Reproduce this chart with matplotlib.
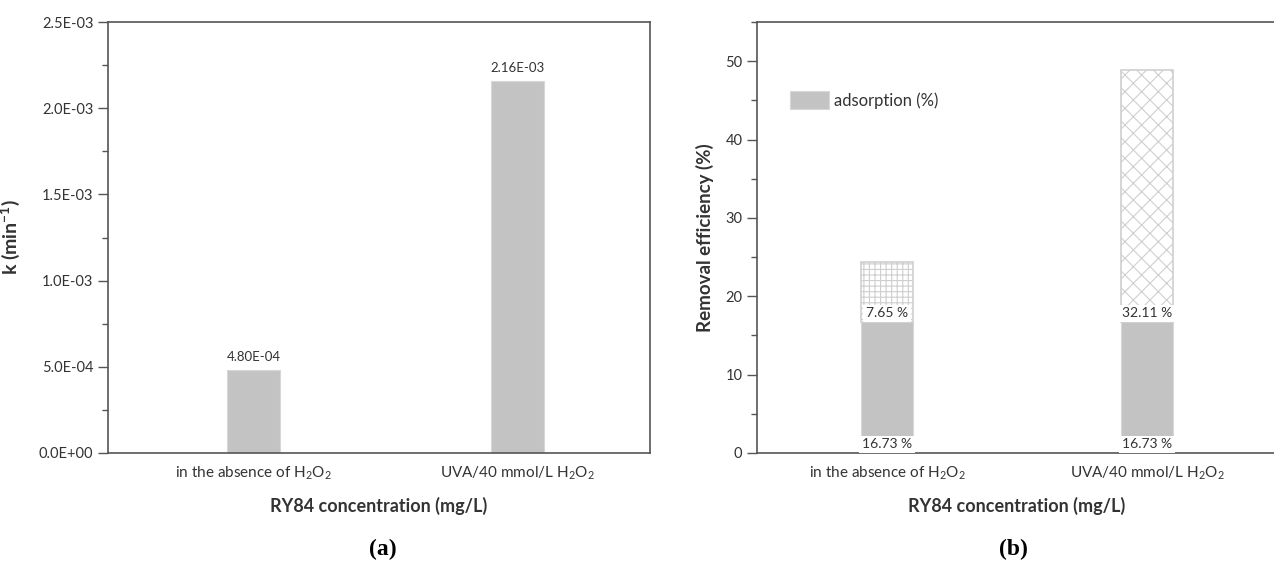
"""Rate constants (a) and stacked removal efficiency (b) for RY84."""

import matplotlib

matplotlib.use("Agg")
import matplotlib.pyplot as plt
from matplotlib.ticker import MultipleLocator, FuncFormatter

plt.rcParams["font.family"] = ["Lato", "DejaVu Sans"]
plt.rcParams["mathtext.fontset"] = "custom"
plt.rcParams["mathtext.rm"] = "Lato"
plt.rcParams["mathtext.it"] = "Lato:italic"
plt.rcParams["mathtext.bf"] = "Lato:bold"
plt.rcParams["hatch.linewidth"] = 0.8

categories = ["in the absence of H$_2$O$_2$", "UVA/40 mmol/L H$_2$O$_2$"]
k_values = [4.80e-4, 2.16e-3]
k_labels = ["4.80E-04", "2.16E-03"]
adsorption = [16.73, 16.73]
degradation = [7.65, 32.11]
top_hatches = ["+++", "xx"]

GRAY = "#c3c3c3"
HATCH = "#cfcfcf"
SPINE = "#555555"
TEXT = "#333333"

fig = plt.figure(figsize=(12.74, 5.64), dpi=100)
ax_a = fig.add_axes([108 / 1274, 111 / 564, 542 / 1274, 431 / 564])
ax_b = fig.add_axes([757 / 1274, 111 / 564, 520 / 1274, 431 / 564])

x = range(len(categories))

# (a) pseudo-first-order rate constants
bars = ax_a.bar(x, k_values, 0.2, color=GRAY, edgecolor="#d8d8d8", linewidth=0.8)
for bar, lab in zip(bars, k_labels):
    ax_a.annotate(lab, (bar.get_x() + bar.get_width() / 2, bar.get_height()),
                  xytext=(0, 5), textcoords="offset points",
                  ha="center", va="bottom", fontsize=9.5, color=TEXT)
ax_a.set_xlim(-0.55, 1.5)
ax_a.set_ylim(0, 2.5e-3)
ax_a.yaxis.set_major_locator(MultipleLocator(5e-4))
ax_a.yaxis.set_minor_locator(MultipleLocator(2.5e-4))
ax_a.yaxis.set_major_formatter(FuncFormatter(lambda v, _: f"{v:.1E}"))
ax_a.set_ylabel("k (min$\\mathbf{^{-1}}$)", fontsize=14, fontweight="bold",
                color=TEXT, labelpad=12)

# (b) adsorption + degradation stacked
ax_b.bar(x, adsorption, 0.2, color=GRAY, edgecolor="#d8d8d8", linewidth=0.8,
         label="adsorption (%)")
for i, (base, top, h) in enumerate(zip(adsorption, degradation, top_hatches)):
    ax_b.bar(i, top, 0.2, bottom=base, color="white", edgecolor=HATCH,
             hatch=h, linewidth=1.2)
    ax_b.text(i, base + 0.35, f"{top:.2f} %", ha="center", va="bottom",
              fontsize=10, color=TEXT,
              bbox=dict(facecolor="white", edgecolor="none", pad=1.8))
    ax_b.text(i, 0.35, f"{base:.2f} %", ha="center", va="bottom",
              fontsize=10, color=TEXT,
              bbox=dict(facecolor="white", edgecolor="none", pad=1.8))
ax_b.set_xlim(-0.5, 1.5)
ax_b.set_ylim(0, 55)
ax_b.yaxis.set_major_locator(MultipleLocator(10))
ax_b.yaxis.set_minor_locator(MultipleLocator(5))
ax_b.set_ylabel("Removal efficiency (%)", fontsize=13.5, fontweight="bold",
                color=TEXT, labelpad=8)
ax_b.legend(loc="upper left", bbox_to_anchor=(0.035, 0.875), frameon=False,
            fontsize=12, handlelength=2.3, handleheight=1.3, handletextpad=0.3,
            labelcolor=TEXT)

for ax, tag in ((ax_a, "(a)"), (ax_b, "(b)")):
    ax.set_xticks(list(x))
    ax.set_xticklabels(categories, fontsize=11, color=TEXT)
    ax.tick_params(axis="x", length=0, pad=8)
    ax.tick_params(axis="y", which="major", direction="out", length=7,
                   width=1, color=SPINE, labelsize=10.5, labelcolor=TEXT)
    ax.tick_params(axis="y", which="minor", direction="out", length=4,
                   width=1, color=SPINE)
    for s in ax.spines.values():
        s.set_color(SPINE)
        s.set_linewidth(1.2)
    ax.set_xlabel("RY84 concentration (mg/L)", fontsize=13, fontweight="bold",
                  color=TEXT, labelpad=11)

fig.text(383 / 1274, 1 - 549 / 564, "(a)", ha="center", va="center",
         family="Liberation Serif", fontweight="bold", fontsize=17)
fig.text(1013 / 1274, 1 - 549 / 564, "(b)", ha="center", va="center",
         family="Liberation Serif", fontweight="bold", fontsize=17)

fig.savefig("out.png", dpi=100)
